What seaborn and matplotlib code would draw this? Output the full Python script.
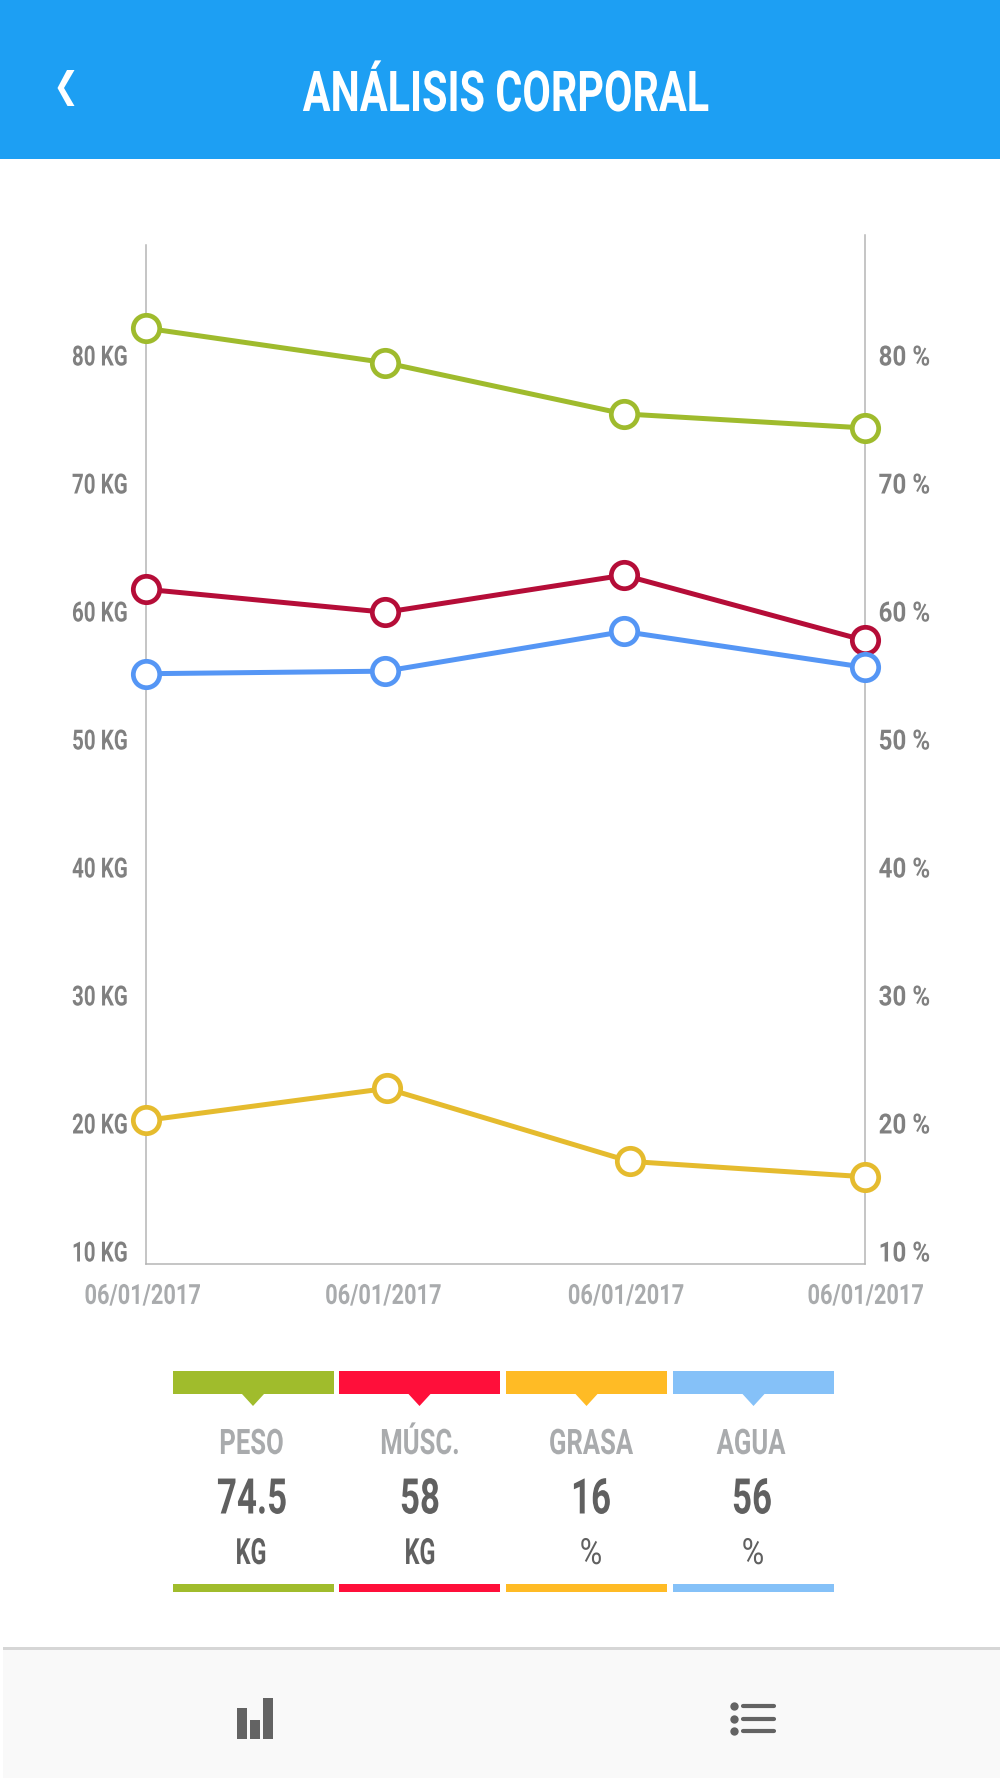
import matplotlib
matplotlib.use("Agg")
import matplotlib.pyplot as plt
from matplotlib.patches import Rectangle, Polygon
import matplotlib.patheffects as pe
from matplotlib.transforms import Affine2D
import pandas as pd
import seaborn as sns

sns.set_style("white")
FONT = ["Roboto", "DejaVu Sans"]
plt.rcParams["font.family"] = FONT

# ---- data ----
series_names = ["Peso", "Músc.", "Grasa", "Agua"]
line_colors = ["#9fbb2d", "#b50d38", "#e5bb2e", "#5596f5"]
peso = [82.1, 79.4, 75.4, 74.3]
musc = [61.7, 59.9, 62.8, 57.7]
grasa = [20.2, 22.7, 17.0, 15.8]
agua = [55.1, 55.3, 58.4, 55.6]
x_main = [0, 1, 1.995, 3]
x_grasa = [0, 1.005, 2.02, 3]
x_ticks = [0, 1, 2, 3]
dates = ["06/01/2017"] * 4
y_ticks = [10, 20, 30, 40, 50, 60, 70, 80]
left_labels = [f"{v} KG" for v in y_ticks]
right_labels = [f"{v} %" for v in y_ticks]

card_labels = ["PESO", "MÚSC.", "GRASA", "AGUA"]
card_values = ["74.5", "58", "16", "56"]
card_units = ["KG", "KG", "%", "%"]
card_colors = ["#a0bc2c", "#ff0f3a", "#ffbb25", "#85c1f8"]

df = pd.concat([
    pd.DataFrame({"x": x_main, "y": peso, "s": series_names[0]}),
    pd.DataFrame({"x": x_main, "y": musc, "s": series_names[1]}),
    pd.DataFrame({"x": x_grasa, "y": grasa, "s": series_names[2]}),
    pd.DataFrame({"x": x_main, "y": agua, "s": series_names[3]}),
])


class Condense(pe.AbstractPathEffect):
    """Draws a text narrower about its anchor; no condensed face is installed."""

    def __init__(self, text, sx, dx=0):
        super().__init__()
        self.text, self.sx, self.dx = text, sx, dx

    def draw_path(self, renderer, gc, tpath, affine, rgbFace=None):
        ax_, _ = self.text.get_transform().transform(self.text.get_unitless_position())
        t = affine + Affine2D().translate(-ax_, 0).scale(self.sx, 1).translate(ax_ + self.dx, 0)
        renderer.draw_path(gc, tpath, t, rgbFace)


def condense(text, sx, dx=0):
    text.set_path_effects([Condense(text, sx, dx)])
    return text


W, H = 1000, 1778
fig = plt.figure(figsize=(10, 17.78), dpi=100, facecolor="white")

# page furniture in pixel coordinates
bg = fig.add_axes([0, 0, 1, 1])
bg.set_xlim(0, W)
bg.set_ylim(H, 0)
bg.axis("off")
bg.add_patch(Rectangle((0, 0), W, 159, color="#1d9ff3", lw=0))
bg.add_patch(Polygon([(67, 70), (74.5, 70), (64, 88), (74.5, 106), (67.5, 106), (57.5, 88)],
                     color="white", lw=0))
condense(bg.text(506, 111, "ANÁLISIS CORPORAL", color="white", fontsize=40.5, fontweight="bold",
                 ha="center", va="baseline"), 0.735)

card_x = [172.5, 339, 506, 673]
card_w = 161
label_x = [251.5, 420, 591, 751]
value_x = [252, 420, 591, 752]
unit_x = [251, 420, 591, 753]
for i in range(4):
    x0 = card_x[i]
    cx = x0 + card_w / 2
    c = card_colors[i]
    bg.add_patch(Rectangle((x0, 1371), card_w, 23, color=c, lw=0))
    bg.add_patch(Polygon([(cx - 11, 1394), (cx + 11, 1394), (cx, 1406)], color=c, lw=0))
    bg.add_patch(Rectangle((x0, 1584), card_w, 8, color=c, lw=0))
    condense(bg.text(label_x[i], 1454, card_labels[i], color="#a9abad", fontsize=25.3,
                     fontweight="bold", ha="center", va="baseline"), 0.73)
    condense(bg.text(value_x[i], 1513.5, card_values[i], color="#606060", fontsize=35.4,
                     fontweight="bold", ha="center", va="baseline"), 0.71)
    is_pct = card_units[i] == "%"
    condense(bg.text(unit_x[i], 1564, card_units[i], color="#606060", fontsize=26,
                     fontweight="normal" if is_pct else "bold", ha="center", va="baseline"),
             0.85 if is_pct else 0.65)

bg.add_patch(Rectangle((3, 1650), W, 128, color="#f9f9f9", lw=0))
bg.add_patch(Rectangle((3, 1647), W, 3, color="#d6d6d6", lw=0))
for x0, top in [(236.5, 1708), (249.5, 1720), (262.5, 1698)]:
    bg.add_patch(Rectangle((x0, top), 10, 1739 - top, color="#636363", lw=0))
for yy in [1706, 1718.5, 1731]:
    bg.plot([734], [yy], "o", color="#636363", ms=6, mew=0)
    bg.plot([743, 774], [yy, yy], color="#636363", lw=3, solid_capstyle="round")

# chart
L, R, T, B = 145.7, 864.7, 235, 1263.5
ax = fig.add_axes([L / W, 1 - B / H, (R - L) / W, (B - T) / H])
ax.patch.set_alpha(0)
y_at = lambda px: 80 + (355 - px) / 12.8
ax.set_xlim(0, 3)
ax.set_ylim(y_at(B), y_at(T))

sns.lineplot(data=df, x="x", y="y", hue="s", hue_order=series_names, palette=line_colors,
             marker="o", markersize=19, markeredgewidth=3.4, linewidth=3.6,
             sort=False, errorbar=None, legend=False, ax=ax, clip_on=False, zorder=5)
for line in ax.lines:
    line.set_markerfacecolor("white")
    line.set_markeredgecolor(line.get_color())
    line.set_clip_on(False)

ax.set_xlabel("")
ax.set_ylabel("")
ax.spines["top"].set_visible(False)
for s in ["left", "right", "bottom"]:
    ax.spines[s].set_visible(True)
    ax.spines[s].set_color("#b5b5b5")
    ax.spines[s].set_linewidth(1.1)
ax.spines["left"].set_bounds(y_at(B), y_at(245))

ax.set_yticks(y_ticks)
ax.set_yticklabels(left_labels, color="#808080", fontsize=20, fontweight="bold")
ax.tick_params(axis="y", length=0, pad=13)
for t in ax.get_yticklabels():
    condense(t, 0.74)
ax.set_xticks(x_ticks)
ax.set_xticklabels(dates, color="#a9abad", fontsize=20, fontweight="bold")
ax.tick_params(axis="x", length=0, pad=14)
for t, dx in zip(ax.get_xticklabels(), [-3, -2, 1, 1]):
    condense(t, 0.785, dx)

ax2 = ax.twinx()
ax2.patch.set_alpha(0)
ax2.set_ylim(ax.get_ylim())
ax2.set_yticks(y_ticks)
ax2.set_yticklabels(right_labels, color="#808080", fontsize=20, fontweight="bold")
ax2.tick_params(axis="y", length=0, pad=10)
for t in ax2.get_yticklabels():
    condense(t, 0.87)
for s in ax2.spines.values():
    s.set_visible(False)
ax2.grid(False)
ax.grid(False)

fig.savefig("out.png", dpi=100)
